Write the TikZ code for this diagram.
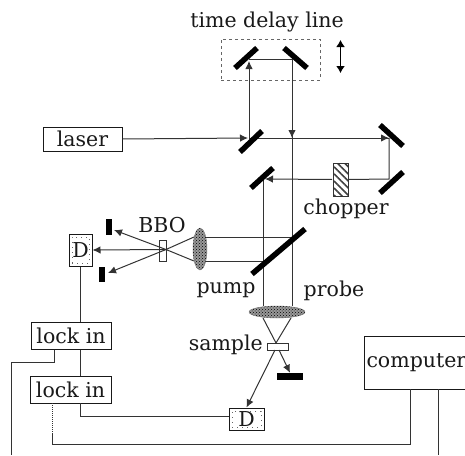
\documentclass[tikz,border=0pt]{standalone}
\usepackage{fontspec}
\setmainfont{DejaVu Serif}
\usetikzlibrary{arrows.meta,patterns,patterns.meta,shapes.geometric}
\tikzset{
  x=1pt,y=-1pt,
  beam/.style={draw=black!80,line width=1pt},
  ray/.style={beam,-{Latex[length=8pt,width=7.5pt]}},
  mirror/.style={line width=5.5pt,black},
  wire/.style={draw=black!80,line width=1pt},
  boxn/.style={draw=black!90,line width=1pt,fill=white,inner sep=0pt,font=\fontsize{20.5}{22}\selectfont,text=black!90},
  lab/.style={inner sep=0pt,font=\fontsize{20.5}{22}\selectfont,text=black!90},
  dump/.style={fill=black,draw=none,inner sep=0pt},
  lensn/.style={ellipse,draw=black!55,fill=black!40,inner sep=0pt,postaction={pattern=crosshatch dots,pattern color=black}},
  inner/.style={draw=black!60,dash pattern=on 1pt off 4pt,line width=1pt,inner sep=0pt}
}
\begin{document}
\begin{tikzpicture}
\useasboundingbox (0,0) rectangle (465,455);
% labels
\node[lab] (tdl) at (267,22) {time delay line};
\node[lab] (bbo) at (162,225) {BBO};
\node[lab] (chop) at (346,209) {chopper};
\node[lab] (pump) at (226,290) {pump};
\node[lab] (probe) at (334,291) {probe};
\node[lab,anchor=east] (samp) at (263,345) {sample};
% boxes
\node[boxn,minimum width=79pt,minimum height=24pt] (laser) at (82.5,139) {laser};
\node[boxn,minimum width=80pt,minimum height=27pt] (lock1) at (71,336) {lock in};
\node[boxn,minimum width=81pt,minimum height=27pt] (lock2) at (70.5,389.5) {lock in};
\node[boxn,minimum width=120pt,minimum height=53pt,anchor=north west,text width=116pt,align=left] (comp) at (364,336) {computer};
\node[boxn,minimum width=23pt,minimum height=32pt] (d1) at (80.5,250) {};
\node[inner,minimum width=17pt,minimum height=26pt] (d1i) at (80.5,250) {};
\node[lab] (d1t) at (80.5,250) {D};
\node[boxn,minimum width=35pt,minimum height=22pt] (d2) at (246.5,419) {};
\node[inner,minimum width=29pt,minimum height=16pt] (d2i) at (246.5,419) {};
\node[lab] (d2t) at (246.5,419) {D};
\node[draw=black!60,dashed,line width=0.7pt,minimum width=99pt,minimum height=41pt,inner sep=0pt] (delay) at (270.5,59.5) {};
\node[draw=black!80,line width=0.9pt,pattern={Lines[angle=-45,distance=5pt,line width=1.6pt]},pattern color=black!75,minimum width=15pt,minimum height=33pt,inner sep=0pt] (chopbox) at (340.5,179.5) {};
% travel arrow of the delay line
\coordinate (t1) at (340.5,40);
\coordinate (t2) at (340.5,73);
\draw[line width=1.3pt,black,{Latex[length=7pt,width=9pt]}-{Latex[length=7pt,width=9pt]}] (t1) -- (t2);
% coordinates
\coordinate (a) at (249,138);
\coordinate (b) at (249,59.5);
\coordinate (c) at (292,59.5);
\coordinate (f) at (389,138);
\coordinate (g) at (389,179);
\coordinate (h) at (263,179);
\coordinate (j) at (263,306);
\coordinate (k) at (292,306);
\coordinate (l) at (292,237);
\coordinate (m) at (263,261);
\coordinate (xb) at (166,249.5);
% beams
\draw[ray] (laser.east) -- (248,138);
\draw[beam] (a) -- (f);
\draw[ray] (f) ++(-30,0) -- (389,138);
\draw[ray] (a) -- (249,61);
\draw[beam] (b) -- (c) -- (k);
\draw[ray] (292,100) -- (292,138);
\draw[beam] (f) -- (g) -- (chopbox.east);
\draw[ray] (chopbox.west) -- (265,179);
\draw[beam] (h) -- (j);
\draw[beam] (l) -- (200,237);
\draw[beam] (m) -- (200,261);
\draw[beam] (194,237) -- (xb);
\draw[beam] (194,261) -- (xb);
\node[lensn,minimum width=14pt,minimum height=42pt] (lens1) at (200,249) {};
\node[lensn,minimum width=56pt,minimum height=12pt] (lens2) at (277,312) {};
% mirrors
\draw[mirror] (235,68) -- (257,48);
\draw[mirror] (284,48) -- (307,68);
\draw[mirror] (240,152) -- (262,131);
\draw[mirror] (380,125) -- (403,146);
\draw[mirror] (380,193) -- (403,172);
\draw[mirror] (251,188) -- (273,168);
\draw[mirror] (252,274) -- (305,229);
% detector paths
\node[draw=black!80,line width=0.9pt,fill=white,minimum width=7.5pt,minimum height=21pt,inner sep=0pt] (bbox) at (163,250.5) {};
\draw[ray] (xb) -- (d1.east);
\node[dump,minimum width=6.5pt,minimum height=16pt] (dump1) at (109,227) {};
\node[dump,minimum width=6.5pt,minimum height=15pt] (dump2) at (102,274.5) {};
\node[dump,minimum width=26pt,minimum height=7pt] (dump3) at (290,376.5) {};
\coordinate (dt1) at (114,230);
\coordinate (dt2) at (108,273);
\draw[ray] (xb) -- (dt1);
\draw[ray] (xb) -- (dt2);
% sample
\coordinate (s) at (276,343);
\draw[beam] (263,318) -- (s);
\draw[beam] (291,318) -- (s);
\node[draw=black!80,line width=0.9pt,fill=white,minimum width=21pt,minimum height=7pt,inner sep=0pt] (sbox) at (277.5,346.5) {};
\coordinate (o1) at (275,350);
\coordinate (o2) at (279,350);
\draw[ray] (o1) -- (d2.north);
\draw[ray] (o2) -- (dump3.north);
% wires
\coordinate (w1) at (54.5,349.5);
\coordinate (w2) at (54.5,362.5);
\coordinate (w3) at (11.5,362.5);
\coordinate (w4) at (11.5,455);
\coordinate (w5) at (80.5,403);
\coordinate (w6) at (80.5,416.5);
\coordinate (w7) at (52.5,403);
\coordinate (w8) at (52.5,434);
\coordinate (w9) at (52.5,444.5);
\coordinate (w10) at (410.5,444.5);
\coordinate (w11) at (410.5,389);
\coordinate (w12) at (438.5,389);
\coordinate (w13) at (438.5,455);
\draw[wire] (d1.south) -- (d1.south |- lock1.north);
\draw[wire] (lock1.south -| d1.south) -- (lock2.north -| d1.south);
\draw[wire] (w1) -- (w2) -- (w3) -- (w4);
\draw[wire] (w5) -- (w6) -- (w6 -| d2.west);
\draw[wire,densely dotted] (w7) -- (w8);
\draw[wire] (w8) -- (w9) -- (w10) -- (w11);
\draw[wire] (w12) -- (w13);
\end{tikzpicture}
\end{document}
